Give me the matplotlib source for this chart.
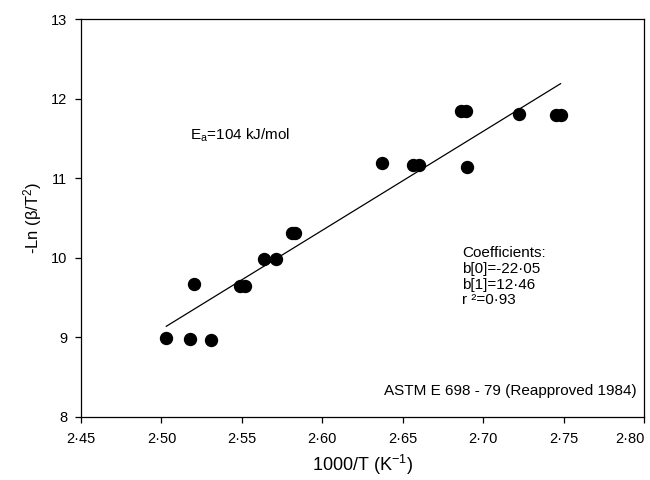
import matplotlib
matplotlib.use("Agg")
import matplotlib.pyplot as plt
import numpy as np
from matplotlib.ticker import FixedLocator, FuncFormatter

plt.rcParams['font.family'] = ['Liberation Sans', 'DejaVu Sans']
plt.rcParams['mathtext.fontset'] = 'custom'
plt.rcParams['mathtext.rm'] = 'Liberation Sans'
plt.rcParams['mathtext.it'] = 'Liberation Sans:italic'
plt.rcParams['mathtext.default'] = 'regular'

# data
inv_T = [2.503, 2.518, 2.531, 2.520, 2.549, 2.552, 2.564, 2.571, 2.581, 2.583,
         2.637, 2.656, 2.660, 2.690, 2.686, 2.689, 2.722, 2.745, 2.748]
neg_ln = [8.99, 8.98, 8.97, 9.67, 9.65, 9.65, 9.99, 9.99, 10.31, 10.31,
          11.19, 11.17, 11.17, 11.14, 11.85, 11.85, 11.81, 11.80, 11.80]
b0 = -22.05
b1 = 12.46
r2 = 0.93
x_ticks = [2.45, 2.50, 2.55, 2.60, 2.65, 2.70, 2.75, 2.80]
y_ticks = [8, 9, 10, 11, 12, 13]

fig = plt.figure(figsize=(6.5, 4.8), dpi=100)
ax = fig.add_axes([0.1246, 0.1319, 0.8666, 0.8279])

ax.plot(inv_T, neg_ln, 'o', color='black', markersize=8.6, zorder=3)
xf = np.array([min(inv_T), max(inv_T)])
ax.plot(xf, b0 + b1 * xf, color='black', linewidth=0.9)

ax.set_xlim(2.45, 2.80)
ax.set_ylim(8, 13)
ax.xaxis.set_major_locator(FixedLocator(x_ticks))
ax.yaxis.set_major_locator(FixedLocator(y_ticks))
ax.xaxis.set_major_formatter(FuncFormatter(lambda v, p: f"{v:.2f}".replace('.', '·')))
ax.yaxis.set_major_formatter(FuncFormatter(lambda v, p: f"{v:.0f}"))
ax.tick_params(direction='out', length=4, width=0.9, labelsize=10.5, pad=6,
               top=False, right=False)
ax.tick_params(axis='x', pad=7)
for s in ax.spines.values():
    s.set_linewidth(0.9)

ax.set_xlabel("1000/T (K$^{-1}$)", fontsize=13, labelpad=5)
ax.set_ylabel("-Ln (β/T$^{2}$)", fontsize=12, labelpad=5)

fig.canvas.draw()
ax.get_xticklabels()[-1].set_horizontalalignment('right')

ax.text(2.5177, 11.545, "E$_{a}$=104 kJ/mol", fontsize=11, va='center', ha='left')
coef_lines = ["Coefficients:",
              "b[0]=" + f"{b0:.2f}".replace('.', '·'),
              "b[1]=" + f"{b1:.2f}".replace('.', '·'),
              "r ²=" + f"{r2:.2f}".replace('.', '·')]
ax.text(2.6867, 10.145, "\n".join(coef_lines), fontsize=11, va='top', ha='left',
        linespacing=1.15)
ax.text(2.795, 8.325, "ASTM E 698 - 79 (Reapproved 1984)", fontsize=11,
        va='center', ha='right')

fig.savefig("out.png", dpi=100)
